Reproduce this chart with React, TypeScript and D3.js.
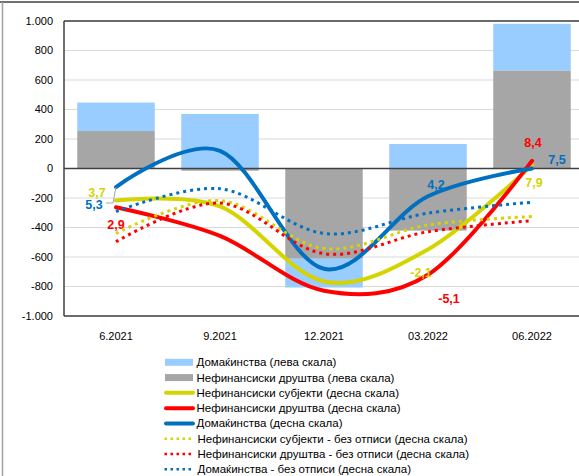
import React from 'react';
import * as d3 from 'd3';

const categories = ['6.2021', '9.2021', '12.2021', '03.2022', '06.2022'];
// left scale (bars, stacked)
const householdsLeft = [193, 370, -195, 166, 316];
const nfcLeft = [254, -15, -612, -421, 665];
// right scale (lines)
const nfsRight = [3.7, 3.0, -5.9, -2.1, 7.9];
const nfcRight = [2.9, -0.5, -7.0, -5.1, 8.4];
const hhRight = [5.3, 9.6, -4.4, 4.2, 7.5];
const nfsNoWo = [-0.2, 3.7, -2.0, 0.8, 1.8];
const nfcNoWo = [-1.2, 3.4, -2.6, 0.0, 1.3];
const hhNoWo = [2.4, 5.1, -0.2, 2.2, 3.5];
const leftTicks = [-1000, -800, -600, -400, -200, 0, 200, 400, 600, 800, 1000];

const legendLabels = [
  'Домаќинства (лева скала)',
  'Нефинансиски друштва (лева скала)',
  'Нефинансиски субјекти (десна скала)',
  'Нефинансиски друштва (десна скала)',
  'Домаќинства (десна скала)',
  'Нефинансиски субјекти - без отписи (десна скала)',
  'Нефинансиски друштва - без отписи (десна скала)',
  'Домаќинства - без отписи (десна скала)',
];

const C_LB = '#99CCFF';
const C_GR = '#A6A6A6';
const C_Y = '#D4D400';
const C_R = '#FF0000';
const C_B = '#0070C0';
const FONT = "'Liberation Sans', Arial, sans-serif";

export default function App() {
  const W = 579, H = 476;
  const x = d3.scaleBand<string>().domain(categories).range([64, 584]).paddingInner(0.255).paddingOuter(0.1275);
  const yL = d3.scaleLinear().domain([-1000, 1000]).range([316, 21]);
  const yR = d3.scaleLinear().domain([-10, 25]).range([316, 21]);
  const cx = (i: number) => (x(categories[i]) as number) + x.bandwidth() / 2;

  const rows = categories.map((c, i) => ({ cat: c, nfc: nfcLeft[i], hh: householdsLeft[i] }));
  const stacked = d3.stack<any>().keys(['nfc', 'hh']).offset(d3.stackOffsetDiverging)(rows);
  const barColors: Record<string, string> = { nfc: C_GR, hh: C_LB };

  const lineGen = d3.line<number>().x((_, i) => cx(i)).y((v) => yR(v)).curve(d3.curveCardinal.tension(0));

  const series = [
    { data: nfsRight, color: C_Y, dotted: false },
    { data: nfcRight, color: C_R, dotted: false },
    { data: hhRight, color: C_B, dotted: false },
    { data: nfsNoWo, color: C_Y, dotted: true },
    { data: nfcNoWo, color: C_R, dotted: true },
    { data: hhNoWo, color: C_B, dotted: true },
  ];

  const labels = [
    { s: 0, i: 0, dx: -19, dy: -8, color: C_Y },
    { s: 2, i: 0, dx: -22, dy: 18, color: C_B },
    { s: 1, i: 0, dx: 0, dy: 17, color: C_R },
    { s: 2, i: 3, dx: 8, dy: -12, color: C_B },
    { s: 0, i: 3, dx: -7, dy: 23, color: C_Y },
    { s: 1, i: 3, dx: 21, dy: 24, color: C_R },
    { s: 1, i: 4, dx: 1, dy: -18, color: C_R },
    { s: 2, i: 4, dx: 25, dy: -9, color: C_B },
    { s: 0, i: 4, dx: 2, dy: 17, color: C_Y },
  ];
  const fmt = (v: number) => v.toFixed(1).replace('.', ',');
  const tickFmt = (v: number) => (Math.abs(v) >= 1000 ? (v < 0 ? '-' : '') + '1.000' : String(v));

  const p0x = cx(0), p0y = yR(hhRight[0]);

  const legendY0 = 362.3, legendStep = 15.28;

  return (
    <svg width={W} height={H} style={{ position: 'absolute', left: 0, top: 0, background: '#fff' }} fontFamily={FONT}>
      <rect x={0} y={0} width={W} height={H} fill="#fff" />
      {/* outer frame */}
      <line x1={0} x2={W} y1={2} y2={2} stroke="#404040" strokeWidth={1.5} />
      <line x1={2.5} x2={2.5} y1={2} y2={H} stroke="#A0A0A0" strokeWidth={1.5} />

      {/* gridlines */}
      {leftTicks.map((t) => (
        <line key={t} x1={64} x2={584} y1={yL(t)} y2={yL(t)} stroke="#D9D9D9" strokeWidth={1} />
      ))}

      {/* bars */}
      {stacked.map((layer) => (
        <g key={layer.key} fill={barColors[layer.key]}>
          {layer.map((d, i) => {
            const y0 = yL(d[0]), y1 = yL(d[1]);
            return (
              <rect key={i} x={x(categories[i])} width={x.bandwidth()} y={Math.min(y0, y1)} height={Math.abs(y1 - y0)} />
            );
          })}
        </g>
      ))}

      {/* plot border + zero axis */}
      <line x1={64} x2={584} y1={21} y2={21} stroke="#404040" strokeWidth={1.5} />
      <line x1={64} x2={584} y1={316} y2={316} stroke="#404040" strokeWidth={1.5} />
      <line x1={64} x2={64} y1={21} y2={316} stroke="#404040" strokeWidth={1.5} />
      <line x1={64} x2={584} y1={yL(0)} y2={yL(0)} stroke="#404040" strokeWidth={1.5} />

      {/* y tick labels */}
      {leftTicks.map((t) => (
        <text key={t} x={53} y={yL(t)} dy="0.35em" textAnchor="end" fontSize={11} fill="#000">
          {tickFmt(t)}
        </text>
      ))}
      {/* x labels */}
      {categories.map((c, i) => (
        <text key={c} x={cx(i)} y={336} dy="0.35em" textAnchor="middle" fontSize={11} fill="#000">
          {c}
        </text>
      ))}

      {/* lines */}
      {series.map((s, k) => (
        <path
          key={k}
          d={lineGen(s.data) || ''}
          fill="none"
          stroke={s.color}
          strokeWidth={s.dotted ? 3 : 4}
          strokeDasharray={s.dotted ? '3 4' : undefined}
          strokeLinecap={s.dotted ? 'butt' : 'round'}
        />
      ))}

      {/* leader line */}
      <polyline points={`${p0x - 10},203 ${p0x - 3},203 ${p0x},${p0y}`} fill="none" stroke="#A6A6A6" strokeWidth={1} />

      {/* data labels */}
      {labels.map((l, k) => {
        const v = series[l.s].data[l.i];
        return (
          <text key={k} x={cx(l.i) + l.dx} y={yR(v) + l.dy} dy="0.35em" textAnchor="middle" fontSize={12.5} fontWeight="bold" fill={l.color}>
            {fmt(v)}
          </text>
        );
      })}

      {/* legend */}
      {legendLabels.map((lab, k) => {
        const y = legendY0 + k * legendStep;
        let sw: React.ReactNode = null;
        if (k === 0) sw = <rect x={165} y={y - 3.5} width={28} height={7} fill={C_LB} />;
        else if (k === 1) sw = <rect x={165} y={y - 3.5} width={28} height={7} fill={C_GR} />;
        else if (k <= 4) {
          const col = [C_Y, C_R, C_B][k - 2];
          sw = <line x1={166} x2={193} y1={y} y2={y} stroke={col} strokeWidth={4} strokeLinecap="round" />;
        } else {
          const col = [C_Y, C_R, C_B][k - 5];
          sw = <line x1={164.5} x2={191} y1={y} y2={y} stroke={col} strokeWidth={2.5} strokeDasharray="2.5 3.5" />;
        }
        return (
          <g key={k}>
            {sw}
            <text x={k <= 4 ? 196.5 : 197.5} y={y} dy="0.35em" fontSize={11.5} fill="#000">
              {lab}
            </text>
          </g>
        );
      })}
    </svg>
  );
}
